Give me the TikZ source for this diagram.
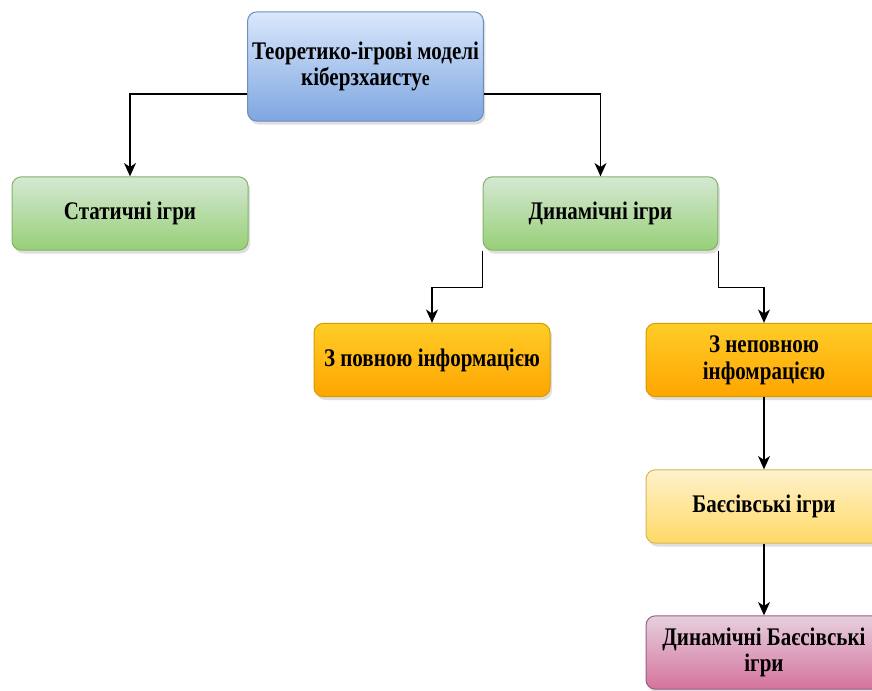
\documentclass[tikz,border=0pt]{standalone}
\usepackage{fontspec}
\setmainfont{Liberation Serif}[FakeStretch=0.83]
\usetikzlibrary{arrows.meta}
\usetikzlibrary{calc}
\usetikzlibrary{shadows}

\definecolor{blueTop}{HTML}{DAE8FC}
\definecolor{blueBot}{HTML}{7EA6E0}
\definecolor{blueLine}{HTML}{6C8EBF}
\definecolor{greenTop}{HTML}{D5E8D4}
\definecolor{greenBot}{HTML}{97D077}
\definecolor{greenLine}{HTML}{82B366}
\definecolor{orangeTop}{HTML}{FFCD28}
\definecolor{orangeBot}{HTML}{FFA500}
\definecolor{orangeLine}{HTML}{D79B00}
\definecolor{yellowTop}{HTML}{FFF2CC}
\definecolor{yellowBot}{HTML}{FFD966}
\definecolor{yellowLine}{HTML}{D6B656}
\definecolor{pinkTop}{HTML}{E6D0DE}
\definecolor{pinkBot}{HTML}{D5739D}
\definecolor{pinkLine}{HTML}{996185}

\begin{document}
\begin{tikzpicture}[x=0.75pt, y=-0.75pt,
  box/.style={rectangle, rounded corners=7pt, line width=0.75pt,
    minimum width=177pt, minimum height=55pt, align=center,
    font=\fontsize{19}{20}\selectfont\bfseries,
    drop shadow={shadow xshift=1.5pt, shadow yshift=-2.5pt, opacity=0.25}},
  bluebox/.style={box, draw=blueLine, top color=blueTop, bottom color=blueBot},
  greenbox/.style={box, draw=greenLine, top color=greenTop, bottom color=greenBot},
  orangebox/.style={box, draw=orangeLine, top color=orangeTop, bottom color=orangeBot},
  yellowbox/.style={box, draw=yellowLine, top color=yellowTop, bottom color=yellowBot},
  pinkbox/.style={box, draw=pinkLine, top color=pinkTop, bottom color=pinkBot},
  conn/.style={-{Stealth[length=10pt, width=9pt, inset=3pt]}, line width=1pt, draw=black}]
  \clip (0,0) rectangle (872,690);
  % root
  \node[bluebox, minimum width=176pt, minimum height=82pt] (root) at (365.5,66.5)
    {Теоретико-ігрові моделі\\кіберзхаисту{\fontsize{16}{16}\selectfont е}};
  % level 1
  \node[greenbox] (static) at (130,213.5) {Статичні ігри};
  \node[greenbox, minimum width=176pt] (dynamic) at (600.5,213.5) {Динамічні ігри};
  % level 2
  \node[orangebox] (full) at (432,360) {З повною інформацією};
  \node[orangebox] (partial) at (764,360) {З неповною\\інфомрацією};
  % level 3, 4
  \node[yellowbox] (bayes) at (764,506.5) {Баєсівські ігри};
  \node[pinkbox] (dynbayes) at (764,652.5) {Динамічні Баєсівські\\ігри};
  % connectors
  \draw[conn] ($(root.south west)!0.25!(root.north west)$) -| (static.north);
  \draw[conn] ($(root.south east)!0.25!(root.north east)$) -| (dynamic.north);
  \draw[conn] (dynamic.south west) -- ++(0,37) -| (full.north);
  \draw[conn] (dynamic.south east) -- ++(0,37) -| (partial.north);
  \draw[conn] (partial) -- (bayes);
  \draw[conn] (bayes) -- (dynbayes);
\end{tikzpicture}
\end{document}
